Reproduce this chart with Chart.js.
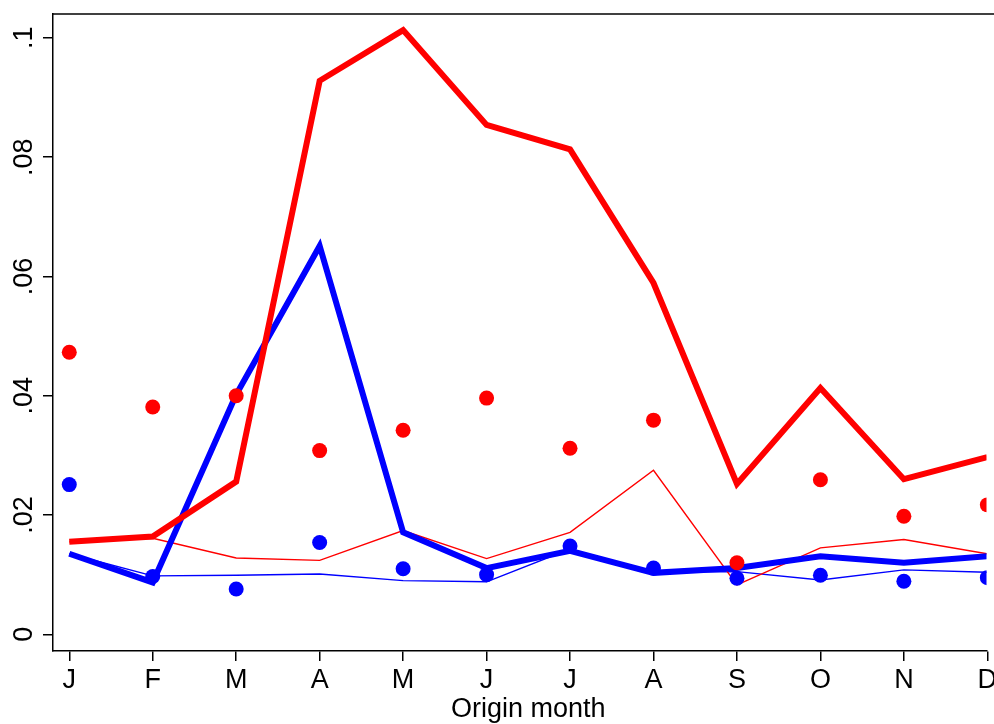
<!DOCTYPE html>
<html>
<head>
<meta charset="utf-8">
<script src="https://cdn.jsdelivr.net/npm/chart.js@4/dist/chart.umd.min.js"></script>
<style>
  html, body { margin: 0; padding: 0; background: #fff; overflow: hidden; }
  #c { display: block; }
</style>
</head>
<body>
<canvas id="c" width="994" height="724"></canvas>
<script>
// month labels on the x axis, positions 1..12
const months = ['J', 'F', 'M', 'A', 'M', 'J', 'J', 'A', 'S', 'O', 'N', 'D'];
const monthPos = [1, 2, 3, 4, 5, 6, 7, 8, 9, 10, 11, 12];
const xTitle = 'Origin month';

const yTicks = [0, 0.02, 0.04, 0.06, 0.08, 0.1];
const yTickLabels = ['0', '.02', '.04', '.06', '.08', '.1'];

// series
const redThick  = [0.0155, 0.0164, 0.0256, 0.0928, 0.1013, 0.0854, 0.0813, 0.0589, 0.0252, 0.0413, 0.0260, 0.0297];
const redThin   = [0.0155, 0.0161, 0.0128, 0.0124, 0.0174, 0.0127, 0.0171, 0.0275, 0.0083, 0.0145, 0.0159, 0.0135];
const redDots   = [0.0473, 0.0381, 0.0400, 0.0308, 0.0342, 0.0396, 0.0312, 0.0359, 0.0120, 0.0259, 0.0198, 0.0217];
const blueThick = [0.0135, 0.0087, 0.0402, 0.0651, 0.0171, 0.0111, 0.0140, 0.0103, 0.0111, 0.0131, 0.0120, 0.0131];
const blueThin  = [0.0135, 0.0098, 0.0099, 0.0101, 0.0090, 0.0088, 0.0143, 0.0104, 0.0105, 0.0091, 0.0108, 0.0104];
const blueDots  = [0.0251, 0.0097, 0.0076, 0.0154, 0.0110, 0.0100, 0.0148, 0.0111, 0.0094, 0.0099, 0.0089, 0.0095];

const RED = '#ff0000';
const BLUE = '#0000ff';
const FONT = 'Liberation Sans, Arial, Helvetica, sans-serif';
const X_MIN = 0.805;

const pts = arr => arr.map((v, i) => ({ x: monthPos[i], y: v }));

function lineSet(arr, color, width) {
  return {
    data: pts(arr), borderColor: color, borderWidth: width, pointRadius: 0,
    fill: false, tension: 0, borderJoinStyle: 'miter', borderCapStyle: 'butt'
  };
}
function dotSet(arr, color) {
  return {
    data: pts(arr), showLine: false, pointRadius: 7.5, pointBorderWidth: 0,
    pointBackgroundColor: color, pointBorderColor: color
  };
}

// top edge of the plot box (right edge is off the picture) + axis title
// centred on the full plot box, which runs a bit past the canvas
const frame = {
  id: 'frame',
  afterDraw(chart) {
    const { ctx, chartArea: a } = chart;
    const xs = chart.scales.x;
    ctx.save();
    ctx.strokeStyle = '#000';
    ctx.lineWidth = 1.5;
    ctx.beginPath();
    ctx.moveTo(a.left, a.top);
    ctx.lineTo(chart.width, a.top);
    ctx.stroke();

    const fullRight = xs.getPixelForValue(monthPos[monthPos.length - 1] + (monthPos[0] - X_MIN));
    ctx.fillStyle = '#000';
    ctx.font = '27px ' + FONT;
    ctx.textAlign = 'center';
    ctx.textBaseline = 'alphabetic';
    ctx.fillText(xTitle, (a.left + fullRight) / 2, 717);
    ctx.restore();
  }
};

new Chart(document.getElementById('c'), {
  type: 'line',
  data: {
    // first dataset ends up on top
    datasets: [
      dotSet(redDots, RED),
      dotSet(blueDots, BLUE),
      lineSet(redThick, RED, 6),
      lineSet(blueThick, BLUE, 6),
      lineSet(redThin, RED, 1.4),
      lineSet(blueThin, BLUE, 1.4)
    ]
  },
  options: {
    responsive: false,
    devicePixelRatio: 1,
    animation: false,
    layout: { padding: { top: 14, right: 0, left: 0, bottom: 0 } },
    plugins: { legend: { display: false }, tooltip: { enabled: false } },
    scales: {
      x: {
        type: 'linear',
        min: X_MIN,
        max: 11.99,
        afterBuildTicks: s => { s.ticks = monthPos.map(v => ({ value: v })); },
        afterFit: s => { s.height = 73; s.paddingLeft = 0; s.paddingRight = 0; },
        grid: { drawOnChartArea: false, drawTicks: true, tickLength: 10, color: '#000', lineWidth: 1.5 },
        border: { display: true, color: '#000', width: 1.5 },
        ticks: {
          color: '#000', font: { family: FONT, size: 27 }, padding: 3,
          maxRotation: 0, minRotation: 0, autoSkip: false,
          callback: v => months[monthPos.indexOf(v)]
        },
        title: { display: false }
      },
      y: {
        type: 'linear',
        min: -0.0028,
        max: 0.104,
        afterBuildTicks: s => { s.ticks = yTicks.map(v => ({ value: v })); },
        afterFit: s => { s.width = 53; s.paddingTop = 0; s.paddingBottom = 0; },
        grid: { drawOnChartArea: false, drawTicks: true, tickLength: 10, color: '#000', lineWidth: 1.5 },
        border: { display: true, color: '#000', width: 1.5 },
        ticks: {
          color: '#000', font: { family: FONT, size: 27 }, padding: 0,
          minRotation: 90, maxRotation: 90, crossAlign: 'center', autoSkip: false,
          callback: v => yTickLabels[yTicks.indexOf(v)]
        }
      }
    }
  },
  plugins: [frame]
});
</script>
</body>
</html>
